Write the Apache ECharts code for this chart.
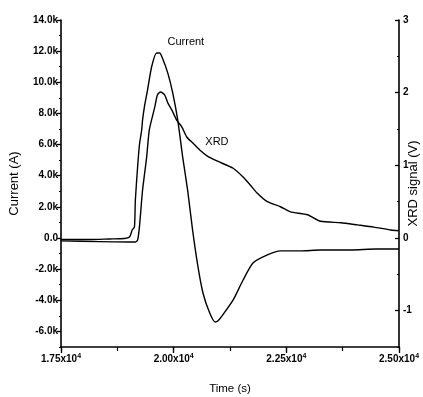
<!DOCTYPE html>
<html>
<head>
<meta charset="utf-8">
<script src="https://cdn.jsdelivr.net/npm/echarts@6/dist/echarts.min.js"></script>
<style>
html,body{margin:0;padding:0;background:#fff;}
#c{width:423px;height:397px;}
</style>
</head>
<body>
<div id="c"></div>
<script>
// Time in microseconds (axis shows units of 1e-4 s)
const currentTime = [175, 181.3, 185.7, 189.1, 190.2, 190.8, 191.3, 191.5, 192.0, 192.4, 192.9, 193.1, 193.5, 194.2, 195.1, 196.2, 196.9, 197.5, 198.7, 199.8, 200.9, 202.0, 203.1, 204.2, 205.4, 206.5, 208.0, 209.2, 209.8, 210.9, 213.2, 215.4, 217.6, 220.8, 223.7, 228.1, 232.6, 239.3, 244.9, 250];
const currentA = [-100, -100, -60, -30, 60, 510, 710, 2440, 4560, 5970, 6930, 7580, 8410, 9500, 10980, 11880, 11880, 11560, 10590, 9310, 7580, 5200, 3080, 510, -1860, -3530, -4820, -5390, -5330, -4940, -3980, -2700, -1610, -1090, -830, -830, -770, -770, -710, -710];

const xrdTime = [175, 183.5, 190.2, 191.5, 192.0, 192.4, 193.1, 194.0, 194.6, 195.8, 196.4, 197.1, 198.0, 198.7, 199.6, 200.7, 201.8, 202.9, 204.2, 205.8, 207.4, 209.6, 213.2, 215.4, 217.0, 218.5, 220.8, 223.7, 225.9, 229.7, 232.6, 237.1, 240.8, 244.4, 248.2, 250];
const xrdV = [-0.04, -0.05, -0.055, -0.055, -0.03, 0.15, 0.66, 1.11, 1.49, 1.80, 1.97, 2.01, 1.97, 1.86, 1.76, 1.62, 1.53, 1.39, 1.31, 1.21, 1.13, 1.06, 0.96, 0.84, 0.73, 0.62, 0.50, 0.43, 0.36, 0.32, 0.23, 0.21, 0.18, 0.15, 0.11, 0.10];

const xTickLabels = ['1.75', '2.00', '2.25', '2.50'];
const leftMajorTicks = [-6000, -4000, -2000, 0, 2000, 4000, 6000, 8000, 10000, 12000, 14000];
const rightMajorTicks = [-1, 0, 1, 2, 3];

const FONT = 'Liberation Sans, Arial, sans-serif';

const chart = echarts.init(document.getElementById('c'), null, {renderer: 'canvas'});

function kLabel(v) {
  if (v === 0) return '0.0';
  return (v / 1000).toFixed(1) + 'k';
}

const hiddenMark = {
  symbol: 'rect', symbolSize: [1, 1],
  itemStyle: {color: 'rgba(0,0,0,0)'}
};

const option = {
  backgroundColor: '#fff',
  animation: false,
  grid: {left: 61, right: 24, top: 20, bottom: 50, containLabel: false, outerBoundsMode: 'none'},
  xAxis: [
    {
      type: 'value', min: 175, max: 250, interval: 25,
      name: 'Time (s)', nameLocation: 'middle', nameGap: 36, nameMoveOverlap: false,
      nameTextStyle: {fontFamily: FONT, fontSize: 11.5, color: '#000'},
      axisLine: {show: true, onZero: false, lineStyle: {color: '#000', width: 1.6}},
      axisTick: {show: true, length: 6, lineStyle: {color: '#000', width: 1.3}},
      splitLine: {show: false},
      axisLabel: {
        margin: 6,
        formatter: function (v) {
          const i = Math.round((v - 175) / 25);
          return '{a|' + xTickLabels[i] + 'x10}{b|4}';
        },
        rich: {
          a: {fontFamily: FONT, fontSize: 10, color: '#000', fontWeight: 'bold'},
          b: {fontFamily: FONT, fontSize: 7, color: '#000', fontWeight: 'bold', padding: [0, 0, 6, 0]}
        }
      }
    },
    {
      type: 'value', min: 175, max: 250, interval: 12.5, position: 'bottom',
      axisLine: {show: false, onZero: false}, axisLabel: {show: false}, splitLine: {show: false},
      axisTick: {show: true, length: 4, lineStyle: {color: '#000', width: 1.2}}
    }
  ],
  yAxis: [
    {
      type: 'value', min: -7000, max: 14000, interval: 1000, position: 'left',
      name: 'Current (A)', nameLocation: 'middle', nameGap: 40, nameRotate: 90, nameMoveOverlap: false,
      nameTextStyle: {fontFamily: FONT, fontSize: 13, color: '#000'},
      axisLine: {show: true, onZero: false, lineStyle: {color: '#000', width: 1.6}},
      axisTick: {show: true, length: 4, customValues: leftMajorTicks, lineStyle: {color: '#000', width: 1.3}},
      splitLine: {show: false},
      axisLabel: {
        customValues: leftMajorTicks, margin: 3,
        fontFamily: FONT, fontSize: 10, color: '#000', fontWeight: 'bold',
        formatter: kLabel
      }
    },
    {
      type: 'value', min: -1.5, max: 3, interval: 0.5, position: 'right',
      name: 'XRD signal (V)', nameLocation: 'middle', nameGap: 8, nameRotate: 90, nameMoveOverlap: false,
      nameTextStyle: {fontFamily: FONT, fontSize: 13, color: '#000'},
      axisLine: {show: true, onZero: false, lineStyle: {color: '#000', width: 1.6}},
      axisTick: {show: true, inside: true, length: 4, customValues: rightMajorTicks, lineStyle: {color: '#000', width: 1.3}},
      splitLine: {show: false},
      axisLabel: {
        customValues: rightMajorTicks, margin: 4,
        fontFamily: FONT, fontSize: 10, color: '#000', fontWeight: 'bold',
        formatter: function (v) { return String(v); }
      }
    },
    {
      type: 'value', min: -7000, max: 14000, interval: 1000, position: 'left',
      axisLine: {show: false, onZero: false}, axisLabel: {show: false}, splitLine: {show: false},
      axisTick: {show: true, length: 2, lineStyle: {color: '#000', width: 1.2}}
    },
    {
      type: 'value', min: -1.5, max: 3, interval: 0.5, position: 'right',
      axisLine: {show: false, onZero: false}, axisLabel: {show: false}, splitLine: {show: false},
      axisTick: {show: true, inside: true, length: 2, lineStyle: {color: '#000', width: 1.2}}
    }
  ],
  series: [
    {
      name: 'Current', type: 'line', xAxisIndex: 0, yAxisIndex: 0,
      data: currentTime.map((t, i) => [t, currentA[i]]),
      showSymbol: false, symbol: 'none', smooth: 0.2,
      lineStyle: {color: '#000', width: 1.4},
      markPoint: Object.assign({}, hiddenMark, {
        label: {show: true, formatter: 'Current', fontFamily: FONT, fontSize: 11, color: '#000', position: 'inside'},
        data: [{coord: [202.7, 12580]}]
      })
    },
    {
      name: 'XRD', type: 'line', xAxisIndex: 0, yAxisIndex: 1,
      data: xrdTime.map((t, i) => [t, xrdV[i]]),
      showSymbol: false, symbol: 'none', smooth: 0.2,
      lineStyle: {color: '#000', width: 1.4},
      markPoint: Object.assign({}, hiddenMark, {
        label: {show: true, formatter: 'XRD', fontFamily: FONT, fontSize: 11, color: '#000', position: 'inside'},
        data: [{coord: [209.6, 1.32]}]
      })
    }
  ]
};

chart.setOption(option);
</script>
</body>
</html>
